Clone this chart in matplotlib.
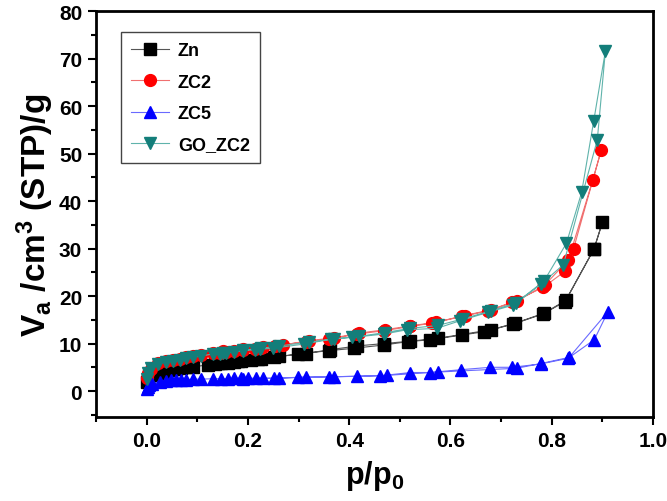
import numpy as np
import matplotlib
matplotlib.use("Agg")
import matplotlib.pyplot as plt
from matplotlib.ticker import MultipleLocator

plt.rcParams['font.family'] = ['Liberation Sans', 'DejaVu Sans']
plt.rcParams['font.weight'] = 'bold'
plt.rcParams['mathtext.fontset'] = 'custom'
plt.rcParams['mathtext.rm'] = 'Liberation Sans:bold'
plt.rcParams['mathtext.bf'] = 'Liberation Sans:bold'
plt.rcParams['mathtext.it'] = 'Liberation Sans:bold'

# ---- data (adsorption branch, then desorption branch) ----
zn_ads_p = [0.0005, 0.002, 0.005, 0.01, 0.022, 0.039, 0.049, 0.058, 0.068, 0.078, 0.091, 0.121,
            0.134, 0.147, 0.160, 0.173, 0.186, 0.206, 0.219, 0.252, 0.298, 0.360, 0.409, 0.469,
            0.516, 0.560, 0.623, 0.667, 0.724, 0.782, 0.826, 0.883, 0.900]
zn_ads_v = [1.8, 2.3, 2.7, 3.1, 3.6, 4.1, 4.4, 4.6, 4.8, 5.0, 5.1, 5.5,
            5.7, 5.8, 6.0, 6.2, 6.3, 6.5, 6.7, 7.1, 7.8, 8.5, 9.0, 9.7,
            10.4, 10.8, 11.8, 12.5, 14.1, 16.2, 18.8, 29.8, 35.5]
zn_des_p = [0.884, 0.828, 0.785, 0.728, 0.680, 0.575, 0.521, 0.469, 0.416, 0.362, 0.314,
            0.262, 0.226, 0.180, 0.140]
zn_des_v = [30.0, 19.1, 16.4, 14.3, 12.9, 11.1, 10.5, 10.0, 9.5, 8.7, 7.9,
            7.3, 6.8, 6.3, 5.9]

zc2_ads_p = [0.0005, 0.003, 0.008, 0.022, 0.039, 0.052, 0.065, 0.078, 0.091, 0.108, 0.131,
             0.144, 0.157, 0.173, 0.190, 0.213, 0.226, 0.254, 0.314, 0.360, 0.416, 0.469,
             0.521, 0.564, 0.623, 0.675, 0.721, 0.783, 0.826, 0.881, 0.898]
zc2_ads_v = [2.8, 3.8, 4.6, 5.9, 6.4, 6.6, 6.8, 7.1, 7.3, 7.6, 8.0,
             8.1, 8.3, 8.5, 8.7, 8.9, 9.0, 9.5, 10.4, 10.9, 12.0, 12.7,
             13.6, 14.3, 15.7, 16.9, 18.7, 21.8, 25.2, 44.4, 50.8]
zc2_des_p = [0.843, 0.833, 0.786, 0.731, 0.680, 0.628, 0.572, 0.520, 0.470, 0.420, 0.370,
             0.320, 0.270, 0.230, 0.190, 0.150]
zc2_des_v = [29.9, 27.6, 22.3, 18.9, 17.1, 15.9, 14.5, 13.7, 12.9, 12.2, 11.2,
             10.6, 9.7, 9.2, 8.8, 8.4]

zc5_ads_p = [0.0005, 0.002, 0.005, 0.01, 0.026, 0.039, 0.049, 0.058, 0.068, 0.078, 0.091,
             0.108, 0.131, 0.147, 0.160, 0.173, 0.186, 0.200, 0.216, 0.229, 0.262, 0.298,
             0.360, 0.416, 0.461, 0.521, 0.560, 0.621, 0.679, 0.722, 0.778, 0.833, 0.911]
zc5_ads_v = [0.4, 0.8, 1.2, 1.5, 2.0, 2.2, 2.3, 2.3, 2.4, 2.4, 2.5,
             2.5, 2.6, 2.6, 2.6, 2.7, 2.7, 2.7, 2.7, 2.7, 2.7, 2.9,
             3.0, 3.1, 3.2, 3.9, 3.9, 4.5, 5.0, 5.0, 5.7, 6.9, 16.7]
zc5_des_p = [0.884, 0.835, 0.779, 0.731, 0.575, 0.474, 0.370, 0.314, 0.252, 0.190]
zc5_des_v = [10.8, 7.1, 5.8, 4.8, 4.0, 3.3, 3.0, 2.9, 2.7, 2.6]

go_ads_p = [0.0005, 0.003, 0.008, 0.022, 0.039, 0.052, 0.065, 0.078, 0.091, 0.108, 0.131,
            0.144, 0.157, 0.173, 0.190, 0.213, 0.223, 0.249, 0.311, 0.364, 0.406, 0.469,
            0.514, 0.573, 0.619, 0.675, 0.724, 0.779, 0.823, 0.890, 0.906]
go_ads_v = [2.5, 3.9, 4.8, 5.7, 6.2, 6.4, 6.6, 6.9, 7.1, 7.4, 7.8,
            7.9, 8.1, 8.3, 8.5, 8.7, 8.8, 9.0, 9.9, 10.9, 11.3, 12.0,
            12.9, 13.2, 14.8, 16.6, 18.1, 22.5, 26.6, 52.9, 71.6]
go_des_p = [0.883, 0.859, 0.829, 0.785, 0.730, 0.680, 0.625, 0.575, 0.520, 0.470, 0.419,
            0.370, 0.320, 0.262, 0.225, 0.190, 0.150]
go_des_v = [56.9, 41.8, 31.1, 23.2, 18.6, 16.9, 15.2, 13.8, 13.2, 12.3, 11.5,
            11.0, 10.3, 9.5, 9.0, 8.6, 8.1]

labels = ["Zn", "ZC2", "ZC5", "GO_ZC2"]

series = [
    (zn_ads_p + zn_des_p, zn_ads_v + zn_des_v, "s", "black", "#555555"),
    (zc2_ads_p + zc2_des_p, zc2_ads_v + zc2_des_v, "o", "red", "#f07070"),
    (zc5_ads_p + zc5_des_p, zc5_ads_v + zc5_des_v, "^", "blue", "#6a6aff"),
    (go_ads_p + go_des_p, go_ads_v + go_des_v, "v", "#137e7a", "#5fb3ab"),
]

fig = plt.figure(figsize=(6.67, 5.02), dpi=100)
ax = fig.add_axes([0.144, 0.167, 0.835, 0.809])

for (p, v, mk, mc, lc), lab in zip(series, labels):
    ax.plot(p, v, color=lc, lw=0.8, marker=mk, markersize=8.5,
            markerfacecolor=mc, markeredgecolor=mc, label=lab)

ax.set_xlim(-0.1, 1.0)
ax.set_ylim(-5.5, 80)
ax.xaxis.set_major_locator(MultipleLocator(0.2))
ax.xaxis.set_minor_locator(MultipleLocator(0.1))
ax.yaxis.set_major_locator(MultipleLocator(10))
ax.yaxis.set_minor_locator(MultipleLocator(5))
ax.set_xticks(np.arange(0, 1.01, 0.2))

ax.tick_params(which="both", direction="out", top=False, right=False, width=1.5, labelsize=15)
ax.tick_params(which="major", length=6, pad=4)
ax.tick_params(which="minor", length=3.5)
for sp in ax.spines.values():
    sp.set_linewidth(2)

ax.set_xlabel(r"p/p$_{\mathrm{0}}$", fontsize=22, fontweight="bold", labelpad=6)
ax.set_ylabel(r"V$_{\mathrm{a}}$ /cm$^{\mathrm{3}}$ (STP)/g", fontsize=24, fontweight="bold", labelpad=2)

leg = ax.legend(loc="upper left", bbox_to_anchor=(0.045, 0.948), borderaxespad=0,
                fancybox=False, edgecolor="#444444", framealpha=1, handlelength=2.1,
                handletextpad=0.5, prop={"size": 13, "weight": "bold"},
                labelspacing=0.8, borderpad=0.55)
leg.get_frame().set_linewidth(1)

fig.savefig("out.png", dpi=100)
